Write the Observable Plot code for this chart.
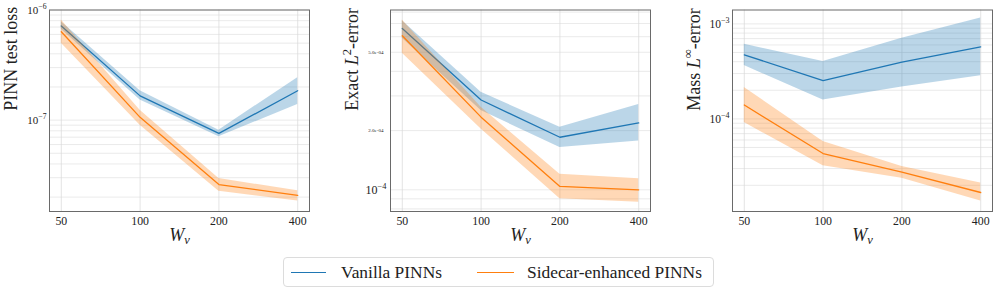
<!DOCTYPE html>
<html>
<head>
<meta charset="utf-8">
<script src="https://cdn.jsdelivr.net/npm/d3@7"></script>
<script src="https://cdn.jsdelivr.net/npm/@observablehq/plot@0.6"></script>
<style>
  body { margin: 0; background: #fff; }
  #fig { position: relative; width: 997px; height: 292px; font-family: "Liberation Serif", "Times New Roman", serif; color: #222; }
  .panel { position: absolute; top: 0; }
  .panel text { font-family: "Liberation Serif", "Times New Roman", serif; }
  #legend { position: absolute; left: 283px; top: 257px; width: 429px; height: 28px; border: 1px solid #dcdcdc; border-radius: 4px;
            display: flex; align-items: center; font-size: 17.4px; color: #222; box-sizing: content-box; }
  #legend .sw { display: inline-block; height: 0; border-top: 1.3px solid; }
</style>
</head>
<body>
<div id="fig"></div>
<script>
// ---------------- data ----------------
const widths = [50, 100, 200, 400];
const seriesNames = ["Vanilla PINNs", "Sidecar-enhanced PINNs"];
const seriesColors = ["#1f77b4", "#ff7f0e"];

// Panel 1: PINN test loss
const lossVanilla   = [7.16e-7, 1.66e-7, 7.57e-8, 1.85e-7];
const lossVanillaLo = [6.68e-7, 1.52e-7, 7.05e-8, 1.39e-7];
const lossVanillaHi = [7.83e-7, 1.85e-7, 8.11e-8, 2.43e-7];
const lossSidecar   = [6.35e-7, 1.06e-7, 2.60e-8, 2.07e-8];
const lossSidecarLo = [4.98e-7, 9.00e-8, 2.26e-8, 1.84e-8];
const lossSidecarHi = [8.11e-7, 1.23e-7, 2.95e-8, 2.28e-8];

// Panel 2: Exact L2-error
const l2Vanilla   = [6.61e-4, 2.86e-4, 1.85e-4, 2.19e-4];
const l2VanillaLo = [5.90e-4, 2.53e-4, 1.64e-4, 1.77e-4];
const l2VanillaHi = [7.23e-4, 3.13e-4, 2.08e-4, 2.71e-4];
const l2Sidecar   = [6.07e-4, 2.34e-4, 1.04e-4, 1.00e-4];
const l2SidecarLo = [4.94e-4, 2.04e-4, 9.00e-5, 8.65e-5];
const l2SidecarHi = [7.29e-4, 2.63e-4, 1.20e-4, 1.14e-4];

// Panel 3: Mass Linf-error
const linfVanilla   = [4.72e-4, 2.53e-4, 3.95e-4, 5.73e-4];
const linfVanillaLo = [3.64e-4, 1.58e-4, 2.16e-4, 2.84e-4];
const linfVanillaHi = [6.11e-4, 4.01e-4, 7.07e-4, 1.15e-3];
const linfSidecar   = [1.40e-4, 4.32e-5, 2.75e-5, 1.68e-5];
const linfSidecarLo = [9.14e-5, 3.22e-5, 2.38e-5, 1.37e-5];
const linfSidecarHi = [2.14e-4, 5.77e-5, 3.15e-5, 2.11e-5];

// tick labels
const xTickLabels = ["50", "100", "200", "400"];
const p1MajorTicks = [1e-7, 1e-6];
const p2MajorTicks = [1e-4];
const p2MinorLabelTicks = [2e-4, 5e-4];
const p3MajorTicks = [1e-4, 1e-3];
const yLabels = ["PINN test loss", "Exact L^2-error", "Mass L^∞-error"];
const xLabel = "W_v";

// ---------------- helpers ----------------
function table(mV, lV, hV, mS, lS, hS) {
  const out = [];
  widths.forEach((w, i) => out.push({w, series: seriesNames[0], v: mV[i], lo: lV[i], hi: hV[i]}));
  widths.forEach((w, i) => out.push({w, series: seriesNames[1], v: mS[i], lo: lS[i], hi: hS[i]}));
  return out;
}
const sciMinor = v => v.toExponential(1).replace(/e([+-])(\d)$/, "e$10$2");
const pow10 = v => "10^" + Math.round(Math.log10(v));

const SVGNS = "http://www.w3.org/2000/svg";
function rich(el, parts, size) {
  el.textContent = "";
  let shift = 0;
  for (const p of parts) {
    const t = document.createElementNS(SVGNS, "tspan");
    t.textContent = p.t;
    let target = 0;
    if (p.it) t.setAttribute("font-style", "italic");
    if (p.sup) { t.setAttribute("font-size", (size * 0.7) + "px"); target = -size * 0.42; }
    if (p.sub) { t.setAttribute("font-size", (size * 0.7) + "px"); target = size * 0.22; }
    if (target !== shift) { t.setAttribute("dy", target - shift); shift = target; }
    el.appendChild(t);
  }
}
function parse(s) {
  if (/^10\^/.test(s)) return [{t: "10"}, {t: s.slice(3).replace("-", "\u2212"), sup: true}];
  if (s === "W_v") return [{t: "W", it: true}, {t: "v", it: true, sub: true}];
  const m = s.match(/^(.*?)L\^(.)(.*)$/);
  if (m) return [{t: m[1]}, {t: "L", it: true}, {t: m[2], sup: true}, {t: m[3]}];
  return null;
}

const panels = [
  {left: 0, width: 320, ml: 49, mr: 11, domain: [1.48e-8, 1.0e-6],
   data: table(lossVanilla, lossVanillaLo, lossVanillaHi, lossSidecar, lossSidecarLo, lossSidecarHi),
   label: yLabels[0], labelDx: -38,
   axes: [{ticks: p1MajorTicks, fmt: pow10, size: 11, pad: 3}]},
  {left: 341, width: 320, ml: 49, mr: 11, domain: [7.76e-5, 8.2e-4],
   data: table(l2Vanilla, l2VanillaLo, l2VanillaHi, l2Sidecar, l2SidecarLo, l2SidecarHi),
   label: yLabels[1], labelDx: -38,
   axes: [{ticks: p2MajorTicks, fmt: pow10, size: 12, pad: 4}, {ticks: p2MinorLabelTicks, fmt: sciMinor, size: 5, pad: 7}]},
  {left: 682, width: 315, ml: 50, mr: 5, domain: [1.06e-5, 1.40e-3],
   data: table(linfVanilla, linfVanillaLo, linfVanillaHi, linfSidecar, linfSidecarLo, linfSidecarHi),
   label: yLabels[2], labelDx: -38.5,
   axes: [{ticks: p3MajorTicks, fmt: pow10, size: 11.5, pad: 3}]}
];

const fig = document.getElementById("fig");
const FONT = "Liberation Serif";

for (const p of panels) {
  const marks = [
    Plot.gridY({ticks: 12, stroke: "#d9d9d9", strokeOpacity: 0.8, strokeWidth: 0.7}),
    Plot.gridX(widths, {stroke: "#d9d9d9", strokeOpacity: 0.9, strokeWidth: 0.8}),
  ];
  seriesNames.forEach((s) => {
    const d = p.data.filter(r => r.series === s);
    marks.push(Plot.areaY(d, {x: "w", y1: "lo", y2: "hi", fill: "series", fillOpacity: 0.3}));
    marks.push(Plot.lineY(d, {x: "w", y: "v", stroke: "series", strokeWidth: 1.3}));
  });
  marks.push(Plot.frame({stroke: "#6a6a6a", strokeWidth: 1}));
  marks.push(Plot.axisX(widths, {tickSize: 0, tickPadding: 5, fontSize: 11.8, fontFamily: FONT, label: null,
    tickFormat: (d) => xTickLabels[widths.indexOf(d)], fill: "#222"}));
  for (const a of p.axes) {
    marks.push(Plot.axisY(a.ticks, {tickSize: 0, tickPadding: a.pad, fontSize: a.size, fontFamily: FONT, label: null, tickFormat: a.fmt, fill: "#222"}));
  }
  marks.push(Plot.text([p.label], {frameAnchor: "left", dx: p.labelDx, rotate: -90, fontSize: 18, fontFamily: FONT, fill: "#222"}));
  marks.push(Plot.text([xLabel], {frameAnchor: "bottom", dy: 29, fontSize: 18, fontFamily: FONT, fill: "#222"}));

  const chart = Plot.plot({
    width: p.width, height: 250,
    marginLeft: p.ml, marginRight: p.mr, marginTop: 9.5, marginBottom: 39,
    style: {fontFamily: FONT, fontSize: "11.5px", background: "transparent", color: "#222"},
    x: {type: "log", base: 2, domain: [45.07, 443.8], axis: null, label: null},
    y: {type: "log", domain: p.domain, axis: null, label: null},
    color: {domain: seriesNames, range: seriesColors},
    marks
  });
  chart.classList.add("panel");
  chart.style.left = p.left + "px";
  fig.appendChild(chart);
  chart.querySelectorAll("text").forEach(el => {
    const parts = parse(el.textContent);
    if (parts) {
      const fs = parseFloat(el.getAttribute("font-size") || el.closest("[font-size]")?.getAttribute("font-size") || 11.5);
      rich(el, parts, fs);
    }
  });
}

// legend
const legend = document.createElement("div");
legend.id = "legend";
legend.innerHTML =
  `<span class="sw" style="margin-left:7px;width:35px;border-color:${seriesColors[0]}"></span>` +
  `<span style="margin-left:15px">${seriesNames[0]}</span>` +
  `<span class="sw" style="margin-left:35px;width:37px;border-color:${seriesColors[1]}"></span>` +
  `<span style="margin-left:13px">${seriesNames[1]}</span>`;
fig.appendChild(legend);
</script>
</body>
</html>
